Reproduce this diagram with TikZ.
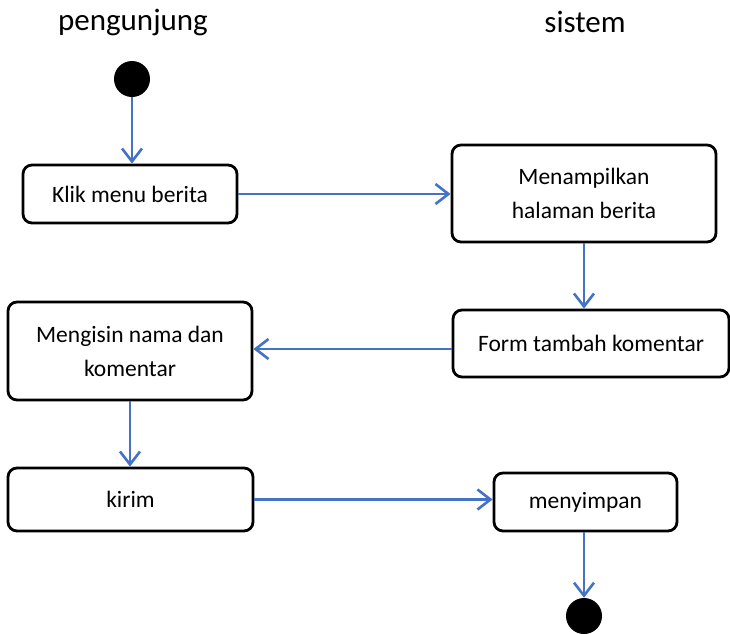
\documentclass[tikz,border=0pt]{standalone}
\usepackage{fontspec}
\setmainfont{Carlito}
\usetikzlibrary{
  calc,
  arrows.meta
}
\tikzset{
>={Straight Barb[length=13pt,width=20pt]},
act/.style={draw=black, line width=2.8pt, rounded corners=9pt, fill=white, align=center,
  font=\fontsize{23.5}{34}\selectfont, inner sep=0pt},
dot/.style={circle, fill=black, minimum size=36pt, inner sep=0pt},
flow/.style={->, draw={rgb,255:red,68;green,114;blue,196}, line width=2.6pt},
lane/.style={font=\fontsize{31}{36}\selectfont}
}

\begin{document}
\begin{tikzpicture}[x=1pt, y=-1pt]
 \useasboundingbox (0,0) rectangle (730,633);
 \node[lane] (pengunjung) at (133,22) {pengunjung};
 \node[lane] (sistem) at (585,22) {sistem};
 \node[dot] (start) at (132,79) {};
 \node[act, minimum width=214pt, minimum height=58pt] (klik) at (130,194) {Klik menu berita};
 \node[act, minimum width=264pt, minimum height=97pt] (tampil) at (584,193.5) {Menampilkan\\halaman berita};
 \node[act, minimum width=276pt, minimum height=67pt] (form) at (591,343.5) {Form tambah komentar};
 \node[act, minimum width=244pt, minimum height=98pt] (isi) at (130,351) {Mengisin nama dan\\komentar};
 \node[act, minimum width=245pt, minimum height=63pt] (kirim) at (130.5,499.5) {kirim};
 \node[act, minimum width=183pt, minimum height=58pt] (simpan) at (585.5,502) {menyimpan};
 \node[dot] (end) at (584,616) {};
 \draw[flow] (start) -- (start |- klik.north);
 \draw[flow] (klik.east) -- (klik.east -| tampil.west);
 \draw[flow] (tampil.south) -- (tampil.south |- form.north);
 \draw[flow] ([yshift=-5.5pt]form.west) -- ([yshift=-5.5pt]form.west -| isi.east);
 \draw[flow] (isi.south) -- (isi.south |- kirim.north);
 \draw[flow] (kirim.east) -- (kirim.east -| simpan.west);
 \draw[flow] (simpan.south -| end) -- (end.north);
\end{tikzpicture}
\end{document}
